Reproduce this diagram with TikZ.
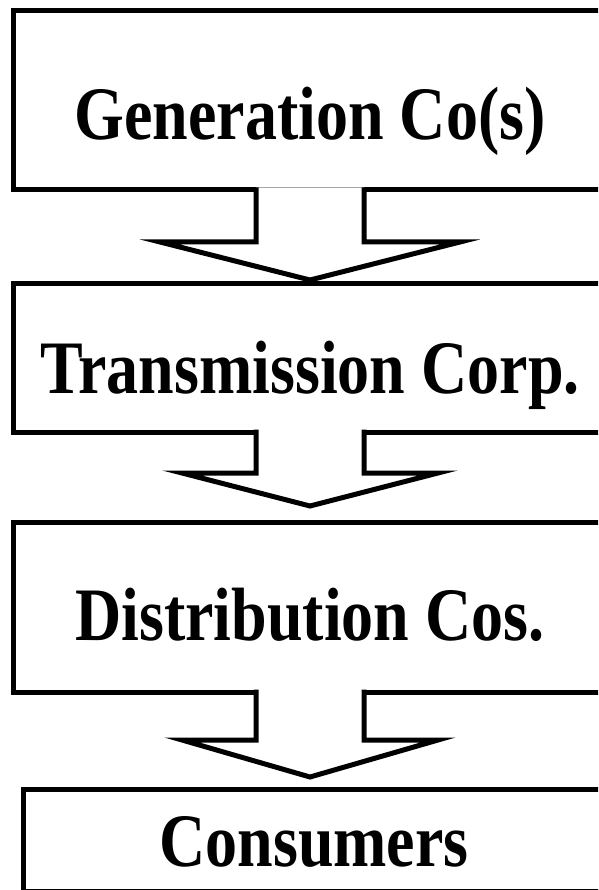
\documentclass[tikz,border=0pt]{standalone}
\usepackage{fontspec}
\setmainfont{Liberation Serif}
\usetikzlibrary{positioning}
\newcommand{\tall}[1]{\scalebox{1}[1.18]{#1}}

\begin{document}
\begin{tikzpicture}[x=1pt, y=-1pt,
    boxnode/.style={rectangle, draw=black, line width=5pt, outer sep=0pt, inner sep=0pt, minimum width=594pt, font=\fontsize{64}{70}\selectfont\bfseries, text depth=0pt},
    flowarrow/.style={draw=black, fill=white, line width=5pt, miter limit=10}
]
\useasboundingbox (0,0) rectangle (598,890);
\clip (0,0) rectangle (598,890);
\node[boxnode, minimum height=179pt, text height=79pt](gen) at (310,100.5){\tall{Generation Co(s)}};
\node[boxnode, minimum height=149pt, text height=71pt](trans)[below=93pt of gen]{\tall{Transmission Corp.}};
\node[boxnode, minimum height=170pt, text height=66pt](dist)[below=90pt of trans]{\tall{Distribution Cos.}};
\node[boxnode, minimum height=102pt, text height=52pt, minimum width=582pt](cons)[below=97pt of dist, xshift=4pt]{\tall{Consumers}};
% block arrows between the boxes
\path[flowarrow] ([xshift=-54pt, yshift=2.5pt]gen.south) -- ++(0,54.5) -- ++(-96,0) -- ++(150,38) -- ++(150,-38) -- ++(-96,0) -- ++(0,-54.5);
\path[flowarrow] ([xshift=-54pt, yshift=2.5pt]trans.south) -- ++(0,43.5) -- ++(-74,0) -- ++(128,33) -- ++(128,-33) -- ++(-74,0) -- ++(0,-43.5);
\path[flowarrow] ([xshift=-54pt, yshift=2.5pt]dist.south) -- ++(0,50.5) -- ++(-74,0) -- ++(128,37) -- ++(128,-37) -- ++(-74,0) -- ++(0,-50.5);
\end{tikzpicture}
\end{document}
